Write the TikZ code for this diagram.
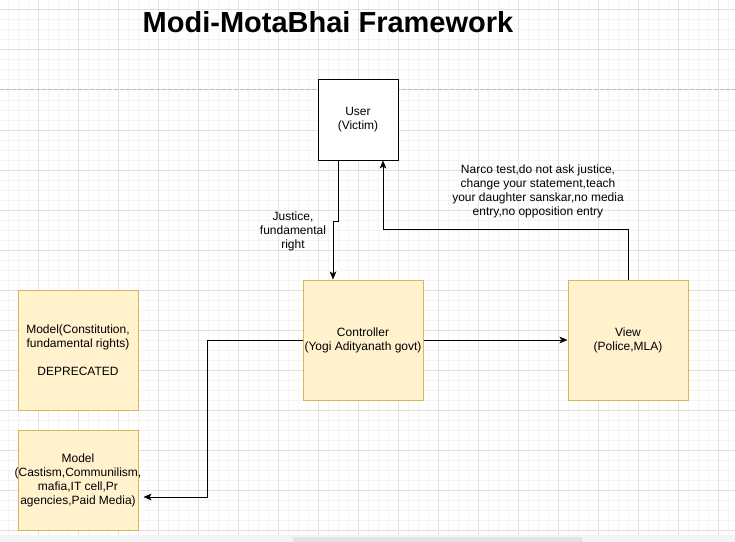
\documentclass[tikz,border=0pt]{standalone}
\usepackage{fontspec}
\setmainfont{Liberation Sans}
\usetikzlibrary{arrows.meta,calc}
\definecolor{boxfill}{HTML}{FFF2CC}
\definecolor{boxline}{HTML}{D6B656}
\definecolor{minorgrid}{HTML}{F4F4F4}
\definecolor{majorgrid}{HTML}{E0E0E0}
\definecolor{pagebreak}{HTML}{BDBDBD}
\tikzset{
  lbl/.style={font=\fontsize{9}{10.5}\selectfont, align=center, inner sep=0pt},
  ybox/.style={draw=boxline, fill=boxfill, line width=0.75pt, minimum width=90pt, minimum height=90pt, inner sep=0pt, lbl},
  wbox/.style={draw=black, fill=white, line width=0.75pt, minimum width=60pt, minimum height=60pt, inner sep=0pt, lbl},
  conn/.style={draw=black, line width=0.75pt, -{Stealth[length=6pt,width=5pt,inset=1.5pt]}},
}
\begin{document}
\begin{tikzpicture}[x=0.75pt,y=-0.75pt]
\useasboundingbox (0,0) rectangle (735,542);
\fill[white] (0,0) rectangle (735,542);
% minor grid
\foreach \i in {0,...,73} { \draw[minorgrid,line width=0.75pt] (8+\i*10,0) -- (8+\i*10,542); }
\foreach \j in {0,...,54} { \draw[minorgrid,line width=0.75pt] (0,\j*10) -- (735,\j*10); }
% major grid
\foreach \i in {1,...,18} { \draw[majorgrid,line width=0.75pt] (-2+\i*40,0) -- (-2+\i*40,542); }
\foreach \j in {0,...,13} { \draw[majorgrid,line width=0.75pt] (0,10+\j*40) -- (735,10+\j*40); }
% page break line
\draw[pagebreak,line width=0.75pt,dash pattern=on 3pt off 1.5pt] (0,90) -- (735,90);
% bottom strip
\fill[minorgrid] (0,535) rectangle (735,542);
\fill[gray!22] (293,537) rectangle (582,542);

% title
\node[font=\fontsize{21.75}{26}\bfseries\selectfont, inner sep=0pt, anchor=base] (title) at (328,33) {Modi-MotaBhai Framework};

% boxes
\node[wbox] (user) at (358,120) {User\\(Victim)};
\node[ybox] (ctrl) at (363,340) {Controller\\(Yogi Adityanath govt)};
\node[ybox] (view) at (628,340) {View\\(Police,MLA)};
\node[ybox] (m1) at (78,350) {Model(Constitution,\\fundamental rights)\\[10.5pt]DEPRECATED};
\node[ybox, minimum height=75pt, label={[lbl]center:{Model\\(Castism,Communilism,\\mafia,IT cell,Pr\\agencies,Paid Media)}}] (m2) at (78,480) {};

% connectors
\draw[conn] ($(user.south)+(-20,0)$) -- ++(0,61) -| ($(ctrl.north)+(-30,0)$);
\draw[conn] (view.north) -- ++(0,-50) -| ($(user.south)+(25,0)$);
\draw[conn] (ctrl.east) -- (view.west);
\draw[conn] (ctrl.west) -- ++(-95,0) |- ($(m2.east)+(5,17)$);

% labels
\node[lbl] (lj) at (293,231) {Justice,\\fundamental\\right};
\node[lbl] (ln) at (538,191) {Narco test,do not ask justice,\\change your statement,teach\\your daughter sanskar,no media\\entry,no opposition entry};
\end{tikzpicture}
\end{document}
